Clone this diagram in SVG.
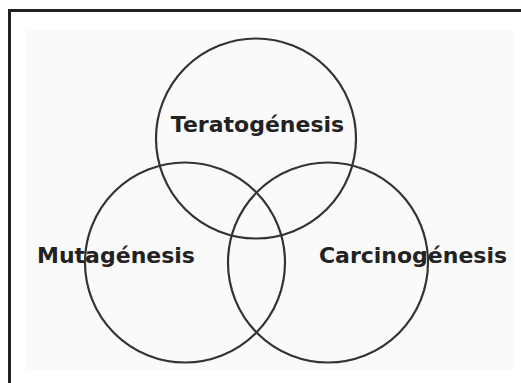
<svg xmlns="http://www.w3.org/2000/svg" width="521" height="383" viewBox="0 0 521 383">
  <style>
    .ring { fill: none; stroke: #333; stroke-width: 2.2; }
    .lbl { font-family: "DejaVu Sans", Verdana, sans-serif; font-weight: bold; font-size: 22px; fill: #222; }
    .frame { fill: none; stroke: #222; stroke-width: 3; }
  </style>
  <rect x="0" y="0" width="521" height="383" fill="#ffffff"/>
  <rect x="27" y="30" width="488" height="340" fill="#fafafa"/>
  <path class="frame" d="M9.5,383 V10.5 H521"/>
  <g id="teratogenesis">
    <circle class="ring" cx="256" cy="138.5" r="100"/>
    <text class="lbl" x="257.5" y="132" text-anchor="middle">Teratogénesis</text>
  </g>
  <g id="mutagenesis">
    <circle class="ring" cx="185" cy="262.5" r="100"/>
    <text class="lbl" x="116" y="263" text-anchor="middle">Mutagénesis</text>
  </g>
  <g id="carcinogenesis">
    <circle class="ring" cx="328" cy="262.5" r="100"/>
    <text class="lbl" x="413" y="263" text-anchor="middle">Carcinogénesis</text>
  </g>
  <g id="connectors"></g>
</svg>
